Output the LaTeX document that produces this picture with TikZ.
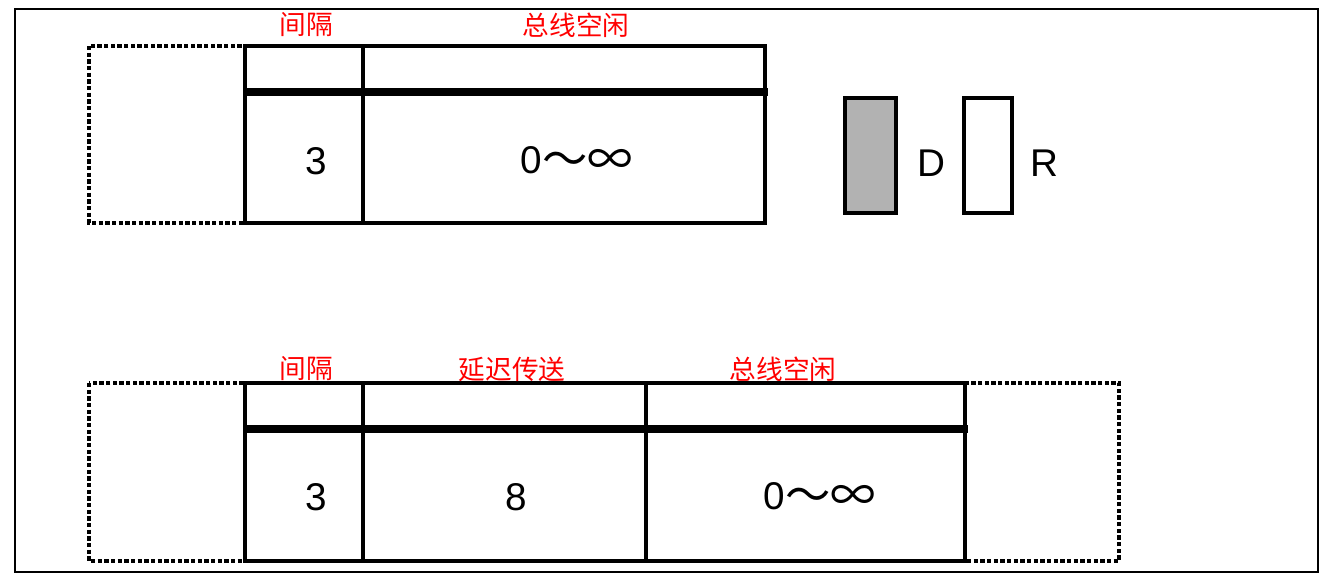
\documentclass[tikz,border=0pt]{standalone}
\usepackage{fontspec}
\setmainfont{Liberation Sans}
\newfontfamily\cjk{Noto Sans CJK SC}
\newcommand{\zeroinf}{0\raisebox{-1.5pt}{\cjk\fontsize{34}{34}\selectfont ～∞}}
\begin{document}
\begin{tikzpicture}[x=0.75pt,y=-0.75pt,
  frame/.style={draw=black,line width=1.8pt},
  cell/.style={draw=black,line width=2.5pt},
  ghost/.style={draw=black,line width=2.6pt,dash pattern=on 3.2pt off 1.8pt},
  bus/.style={draw=black,line width=6pt},
  lbl/.style={text=red,font=\cjk\fontsize{20}{20}\selectfont,inner sep=0pt},
  val/.style={font=\fontsize{29}{29}\selectfont,inner sep=0pt}]
\useasboundingbox (0,0) rectangle (1337,579);
\draw[frame] (15,9) rectangle (1318,572);
% top row
\draw[ghost] (89,46) rectangle (245,223);
\draw[cell] (245,46) rectangle (765,223);
\draw[cell] (363,46) -- (363,223);
\draw[bus] (243,92) -- (768,92);
\node[lbl] (t1) at (306,25) {间隔};
\node[lbl] (t2) at (576,25) {总线空闲};
\node[val] (v1) at (316,161) {3};
\node[val] (v2) at (577,161) {\zeroinf};
% legend
\draw[cell,fill=black!30] (845,98) rectangle (896,213);
\draw[cell] (964,98) rectangle (1012,213);
\node[val] (d) at (931,163) {D};
\node[val] (r) at (1044,163) {R};
% bottom row
\draw[ghost] (89,383) rectangle (245,561);
\draw[ghost] (965,383) rectangle (1119,561);
\draw[cell] (245,383) rectangle (965,561);
\draw[cell] (363,383) -- (363,561);
\draw[draw=black,line width=3.5pt] (646,383) -- (646,561);
\draw[bus] (243,429) -- (968,429);
\node[lbl] (b1) at (306,369) {间隔};
\node[lbl] (b2) at (512,369) {延迟传送};
\node[lbl] (b3) at (783,369) {总线空闲};
\node[val] (w1) at (316,497) {3};
\node[val] (w2) at (516,497) {8};
\node[val] (w3) at (820,497) {\zeroinf};
\end{tikzpicture}
\end{document}
